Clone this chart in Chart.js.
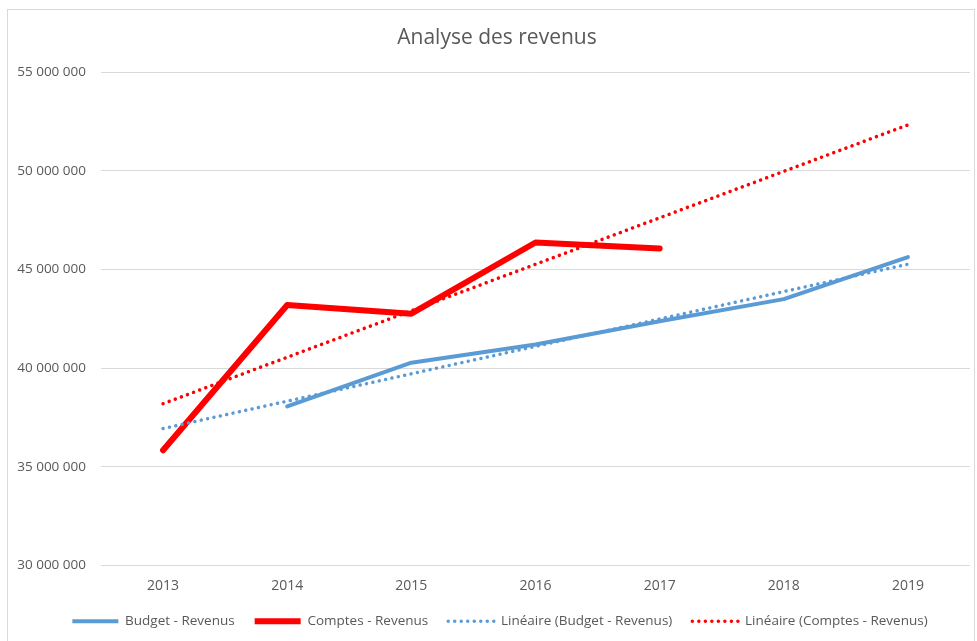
<!DOCTYPE html>
<html>
<head>
<meta charset="utf-8">
<script src="https://cdn.jsdelivr.net/npm/chart.js@4/dist/chart.umd.min.js"></script>
<style>
  html, body { margin: 0; padding: 0; background: #fff; }
  #wrap { position: relative; width: 977px; height: 641px; }
  #frame { position: absolute; left: 7px; top: 9px; width: 968px; height: 640px; border: 1px solid #d9d9d9; box-sizing: border-box; pointer-events: none; }
  canvas { position: absolute; left: 0; top: 0; }
</style>
</head>
<body>
<div id="wrap">
  <canvas id="revenus-chart" width="977" height="641"></canvas>
  <div id="frame"></div>
</div>
<script>
const years = ['2013', '2014', '2015', '2016', '2017', '2018', '2019'];
const budgetRevenus = [null, 38060000, 40280000, 41200000, 42380000, 43500000, 45630000];
const comptesRevenus = [35840000, 43200000, 42760000, 46370000, 46070000, null, null];
// trendlines: only the end points
const lineaireBudget = [36940000, null, null, null, null, null, 45270000];
const lineaireComptes = [38200000, null, null, null, null, null, 52330000];

const blue = '#5b9bd5';
const red = '#ff0000';
const grey = '#595959';

function formatNumber(v) {
  return String(v).replace(/\B(?=(\d{3})+(?!\d))/g, ' ');
}

// nudge title and legend a little to the right, like the original
const nudge = {
  id: 'nudge',
  afterLayout(chart) {
    chart.legend.left += 15;
    chart.legend.right += 15;
    chart.titleBlock.left += 12;
    chart.titleBlock.right += 12;
  }
};

const ctx = document.getElementById('revenus-chart').getContext('2d');
const chart = new Chart(ctx, {
  type: 'line',
  data: {
    labels: years,
    datasets: [
      { label: 'Budget - Revenus', data: budgetRevenus, borderColor: blue, backgroundColor: blue, borderWidth: 4, borderCapStyle: 'round', borderJoinStyle: 'round', order: 3 },
      { label: 'Comptes - Revenus', data: comptesRevenus, borderColor: red, backgroundColor: red, borderWidth: 6, borderCapStyle: 'round', borderJoinStyle: 'round', order: 4 },
      { label: 'Linéaire (Budget - Revenus)', data: lineaireBudget, borderColor: blue, backgroundColor: blue, borderWidth: 3.5, borderDash: [0.01, 6.5], borderCapStyle: 'round', spanGaps: true, order: 1 },
      { label: 'Linéaire (Comptes - Revenus)', data: lineaireComptes, borderColor: red, backgroundColor: red, borderWidth: 3.5, borderDash: [0.01, 6.5], borderCapStyle: 'round', spanGaps: true, order: 2 }
    ]
  },
  plugins: [nudge],
  options: {
    responsive: false,
    animation: false,
    elements: { point: { radius: 0, hoverRadius: 0 }, line: { tension: 0 } },
    layout: { padding: { left: 0, right: 7, top: 25, bottom: 3 } },
    plugins: {
      title: {
        display: true,
        text: 'Analyse des revenus',
        color: grey,
        font: { family: 'Open Sans', size: 21, weight: 'normal' },
        padding: { top: 0, bottom: 22 }
      },
      legend: {
        position: 'bottom',
        labels: {
          color: grey,
          font: { family: 'Open Sans', size: 13.5 },
          usePointStyle: true,
          pointStyle: 'line',
          pointStyleWidth: 46,
          boxWidth: 46,
          boxHeight: 6,
          padding: 20,
          generateLabels(chart) {
            return chart.data.datasets.map((ds, i) => ({
              text: ds.label,
              datasetIndex: i,
              strokeStyle: ds.borderColor,
              fillStyle: ds.borderColor,
              lineWidth: ds.borderWidth,
              lineDash: ds.borderDash || [],
              lineCap: ds.borderDash ? 'round' : 'butt',
              pointStyle: 'line',
              fontColor: grey,
              hidden: false
            }));
          }
        }
      },
      tooltip: { enabled: false }
    },
    scales: {
      x: {
        offset: true,
        afterFit(axis) { axis.height = 29; },
        grid: { display: false, drawTicks: false },
        border: { display: false },
        ticks: { color: grey, font: { family: 'Open Sans', size: 14 }, padding: 12, maxRotation: 0 }
      },
      y: {
        min: 30000000,
        max: 55000000,
        afterFit(axis) { axis.width = 101; },
        grid: { color: '#d9d9d9', lineWidth: 1, drawTicks: false },
        border: { display: false },
        ticks: {
          stepSize: 5000000,
          color: grey,
          font: { family: 'Open Sans', size: 13.5 },
          padding: 15,
          callback: v => formatNumber(v)
        }
      }
    }
  }
});
</script>
</body>
</html>
